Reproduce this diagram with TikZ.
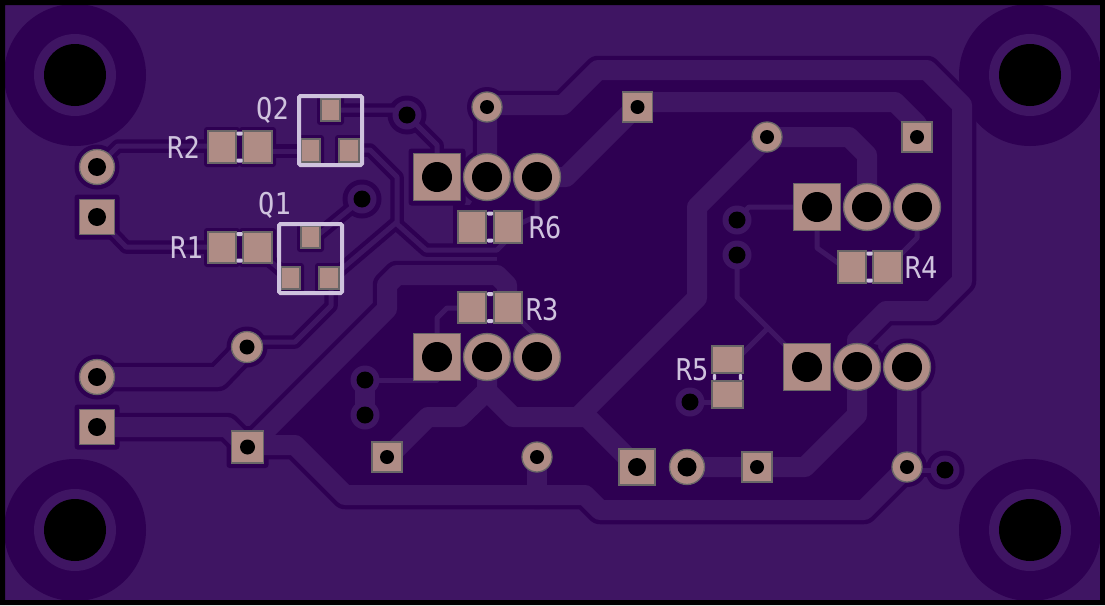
\documentclass[tikz,border=0pt]{standalone}
\usepackage{fontspec}
\newfontfamily\silkfont{DejaVu Sans Mono}
\definecolor{pour}{HTML}{3F1563}
\definecolor{gap}{HTML}{2E0052}
\definecolor{padcu}{HTML}{AF8C85}
\definecolor{padedge}{HTML}{696667}
\definecolor{silk}{HTML}{CFC3DE}
\tikzset{
  silktext/.style={text=silk,inner sep=0pt,anchor=base,font=\silkfont\fontsize{30}{30}\selectfont,xscale=.9},
  padshape/.style={fill=padcu,draw=padedge,line width=1.3pt},
  netcommon/.style={line cap=round,line join=round}
}
\newcommand\allnets{%
\draw[widenet] (487,177)--(487,105)--(563,105)--(598,70)--(927,70)--(962,105)--(962,281)--(932,311)--(886,311)--(857,340)--(857,415)--(805,467)--(687,467);
\draw[widenet] (537,177)--(566,177)--(637,106)--(637,102)--(895,102)--(917,124)--(917,137);
\draw[widenet] (767,137)--(849,137)--(867,155)--(867,207);
\draw[widenet] (767,137)--(697,207)--(697,298)--(578,417)--(513,417)--(487,391)--(487,357);
\draw[widenet] (487,391)--(460,417)--(428,417)--(387,458);
\draw[widenet] (578,417)--(587,417)--(637,467);
\draw[widenet] (537,457)--(537,495);
\draw[widenet] (247,445)--(295,445)--(345,495)--(585,495)--(600,510)--(864,510)--(907,467)--(907,367);
\draw[widenet] (97,377)--(218,377)--(247,347);
\draw[widenet] (97,427)--(227,427)--(247,447);
\draw[widenet] (247,449)--(387,309)--(387,285)--(397,275)--(497,275)--(507,285)--(507,307);
\draw[widenet] (365,380)--(365,415);
\draw[thinnet] (97,167)--(118,146)--(222,146);
\draw[thinnet] (257,151)--(310,151);
\draw[thinnet] (97,217)--(126,247)--(222,247);
\draw[thinnet] (257,250)--(290,278);
\draw[thinnet] (330,110)--(400,110)--(407,115)--(437,145)--(437,177);
\draw[thinnet] (349,150)--(370,150)--(397,177)--(397,224)--(426,250)--(497,250)--(508,239);
\draw[thinnet] (330,279)--(397,222);
\draw[thinnet] (312,240)--(362,199);
\draw[thinnet] (247,342)--(295,342)--(331,306)--(331,280);
\draw[thinnet] (537,177)--(537,216)--(510,228);
\draw[thinnet] (437,357)--(437,318)--(447,308)--(470,308);
\draw[thinnet] (365,380)--(437,380);
\draw[thinnet] (737,219)--(749,207)--(817,207);
\draw[thinnet] (737,255)--(737,297)--(785,345);
\draw[thinnet] (767,329)--(735,361);
\draw[thinnet] (817,207)--(817,248)--(845,268);
\draw[thinnet] (917,207)--(917,238)--(890,265);
\draw[thinnet] (690,402)--(725,402);
\draw[thinnet] (537,337)--(510,310);
\draw[thinnet] (907,470)--(945,470);
}
\newcommand\allpads{%
\sqp{437}{177}{23.5}{15}\rdp{487}{177}{23.5}{15}\rdp{537}{177}{23.5}{15}
\sqp{437}{357}{23.5}{15}\rdp{487}{357}{23.5}{15}\rdp{537}{357}{23.5}{15}
\sqp{817}{207}{23.5}{15}\rdp{867}{207}{23.5}{15}\rdp{917}{207}{23.5}{15}
\sqp{807}{367}{23.5}{15}\rdp{857}{367}{23.5}{15}\rdp{907}{367}{23.5}{15}
\rdp{97}{167}{17.5}{9}\sqp{97}{217}{17.5}{9}
\rdp{97}{377}{17.5}{9}\sqp{97}{427}{17.5}{9}
\rdp{247}{347}{15.5}{7.5}\sqp{247.5}{447}{16}{7.5}
\sqp{387}{457}{15}{7}\rdp{537}{457}{15}{7}
\rdp{487}{107}{15}{7}\sqp{637.5}{107}{15}{7}
\rdp{767}{137}{15}{7}\sqp{917}{137}{15}{7}
\rdp{907}{467}{15}{7}\sqp{757}{467}{15}{7}
\sqp{637}{467}{18}{9}\rdp{687}{467}{17.5}{9.5}
\smd{208}{131}{236}{163}\smd{243}{131}{272}{163}
\smd{208}{232}{236}{263}\smd{243}{232}{272}{263}
\smd{458}{211}{486}{243}\smd{494}{211}{522}{243}
\smd{458}{292}{486}{323}\smd{494}{292}{522}{323}
\smd{838}{251}{866}{283}\smd{873}{251}{902}{283}
\smd{712}{346}{743}{373}\smd{712}{381}{743}{408}
\smd{321}{99}{340}{121}\smd{301}{139}{320}{162}\smd{339}{139}{359}{162}
\smd{301}{226}{320}{248}\smd{281}{267}{300}{289}\smd{319}{267}{339}{289}
}
\begin{document}
\begin{tikzpicture}[x=1pt,y=-1pt]
\useasboundingbox (0,0) rectangle (1105,605);
% board
\fill[pour] (0,0) rectangle (1105,605);
% unfilled interior
\fill[gap] (487,105)--(563,105)--(598,70)--(927,70)--(962,105)--(962,281)--(932,311)--(886,311)--(857,340)--(878,345)--(878,367)--(907,367)--(907,467)--(864,510)--(600,510)--(585,495)--(345,495)--(295,445)--(262,434)--(387,309)--(387,285)--(397,275)--(497,275)--(497,250)--(453,250)--(453,205)--(470,205)--(487,177)--cycle;
% clearances of the copper
\begin{scope}[netcommon,widenet/.style={draw=gap,line width=28.5pt},thinnet/.style={draw=gap,line width=13.5pt}]
\allnets
\end{scope}
% mounting holes
\foreach \hx/\hy in {75/75,75/530,1030/75,1030/530}{
  \fill[gap] (\hx,\hy) circle[radius=71];
  \fill[pour] (\hx,\hy) circle[radius=41];
  \fill[black] (\hx,\hy) circle[radius=31];
}
% clearances of pads
\def\sqp#1#2#3#4{\fill[gap,rounded corners=3pt] (#1-#3-5,#2-#3-5) rectangle (#1+#3+5,#2+#3+5);}
\def\rdp#1#2#3#4{\fill[gap] (#1,#2) circle[radius=#3+5];}
\def\smd#1#2#3#4{\fill[gap,rounded corners=3pt] (#1-4,#2-4) rectangle (#3+4,#4+4);}
\allpads
\foreach \vx/\vy in {407/115,362/199,737/220,737/255,365/380,365/415,690/402,945/470}{
  \fill[gap] (\vx,\vy) circle[radius=19.5];
}
% copper
\begin{scope}[netcommon,widenet/.style={draw=pour,line width=20pt},thinnet/.style={draw=pour,line width=5pt}]
\allnets
\end{scope}
\foreach \vx/\vy in {407/115,362/199,737/220,737/255,365/380,365/415,690/402,945/470}{
  \fill[pour] (\vx,\vy) circle[radius=14.5];
  \fill[black] (\vx,\vy) circle[radius=8.5];
}
% pads
\def\sqp#1#2#3#4{\path[padshape] (#1-#3,#2-#3) rectangle (#1+#3,#2+#3);\fill[black] (#1,#2) circle[radius=#4];}
\def\rdp#1#2#3#4{\path[padshape] (#1,#2) circle[radius=#3];\fill[black] (#1,#2) circle[radius=#4];}
\def\smd#1#2#3#4{\path[padshape] (#1,#2) rectangle (#3,#4);}
\allpads
% silkscreen
\begin{scope}[silk,line width=4pt,rounded corners=1.5pt]
\draw (299,96) rectangle (362,165);
\draw (279,224) rectangle (342,293);
\end{scope}
\foreach \tx/\ty in {239.5/133.5,239.5/160.5,239.5/234,239.5/260.5,490/213.5,490/240.5,490/294,490/321,869.5/253.5,869.5/280.5}{
  \fill[silk,rounded corners=1pt] (\tx-3,\ty-2) rectangle (\tx+3,\ty+2);
}
\foreach \ty in {714.5,740.5}{
  \fill[silk,rounded corners=1pt] (\ty-1.7,374) rectangle (\ty+1.7,380);
}
\node[silktext] (labelR2) at (183.5,158) {R2};
\node[silktext] (labelR1) at (186.5,258) {R1};
\node[silktext] (labelQ2) at (272.5,119.5) {Q2};
\node[silktext] (labelQ1) at (274.5,214.5) {Q1};
\node[silktext] (labelR6) at (545,238) {R6};
\node[silktext] (labelR3) at (542,320.5) {R3};
\node[silktext] (labelR4) at (921,278) {R4};
\node[silktext] (labelR5) at (692,380) {R5};
% board edge
\fill[black,even odd rule] (0,0) rectangle (1105,605) (5,5) rectangle (1100,600);
\end{tikzpicture}
\end{document}
